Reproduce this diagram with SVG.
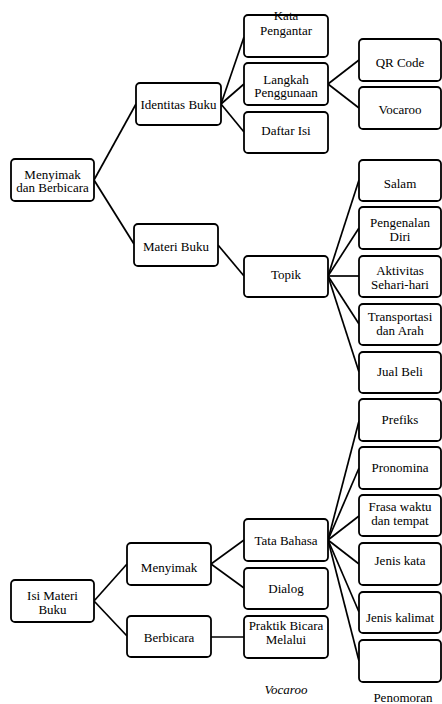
<svg xmlns="http://www.w3.org/2000/svg" width="442" height="704" viewBox="0 0 442 704">
<style>
  .box { fill: #ffffff; stroke: #000000; stroke-width: 1.8; }
  .t { font-family: "Liberation Serif", "Times New Roman", serif; font-size: 13px; fill: #000000; text-anchor: middle; }
  .it { font-style: italic; }
  .c { stroke: #000000; stroke-width: 1.7; fill: none; }
</style>
<rect width="442" height="704" fill="#ffffff"/>
<g id="connectors">
  <line class="c" x1="94" y1="180" x2="136" y2="104"/>
  <line class="c" x1="94" y1="180" x2="134" y2="244"/>
  <line class="c" x1="221" y1="104" x2="244" y2="37"/>
  <line class="c" x1="221" y1="104" x2="244" y2="84"/>
  <line class="c" x1="221" y1="104" x2="244" y2="132"/>
  <line class="c" x1="328" y1="84" x2="359" y2="60"/>
  <line class="c" x1="328" y1="84" x2="359" y2="108"/>
  <line class="c" x1="218" y1="245" x2="244" y2="276"/>
  <line class="c" x1="328" y1="276" x2="359" y2="180"/>
  <line class="c" x1="328" y1="276" x2="359" y2="228"/>
  <line class="c" x1="328" y1="276" x2="359" y2="276"/>
  <line class="c" x1="328" y1="276" x2="359" y2="324"/>
  <line class="c" x1="328" y1="276" x2="359" y2="372"/>
  <line class="c" x1="94" y1="601" x2="127" y2="564"/>
  <line class="c" x1="94" y1="601" x2="127" y2="636"/>
  <line class="c" x1="211" y1="564" x2="244" y2="540"/>
  <line class="c" x1="211" y1="564" x2="244" y2="588"/>
  <line class="c" x1="211" y1="637" x2="244" y2="637"/>
  <line class="c" x1="328" y1="540" x2="359" y2="421"/>
  <line class="c" x1="328" y1="540" x2="359" y2="468"/>
  <line class="c" x1="328" y1="540" x2="359" y2="516"/>
  <line class="c" x1="328" y1="540" x2="359" y2="564"/>
  <line class="c" x1="328" y1="540" x2="359" y2="612"/>
  <line class="c" x1="328" y1="540" x2="359" y2="661"/>
</g>
<g id="n-root1"><rect class="box" x="11" y="159" width="83" height="42" rx="4"/><text class="t" x="52.5" y="178.5">Menyimak</text><text class="t" x="52.5" y="192">dan Berbicara</text></g>
<g id="n-identitas"><rect class="box" x="136" y="83" width="85" height="42" rx="4"/><text class="t" x="178.5" y="109">Identitas Buku</text></g>
<g id="n-materi"><rect class="box" x="134" y="224" width="84" height="42" rx="4"/><text class="t" x="176" y="251">Materi Buku</text></g>
<g id="n-kata"><rect class="box" x="244" y="15" width="84" height="42" rx="4"/><text class="t" x="286" y="20">Kata</text><text class="t" x="286" y="35">Pengantar</text></g>
<g id="n-langkah"><rect class="box" x="244" y="63" width="84" height="42" rx="4"/><text class="t" x="286" y="83.5">Langkah</text><text class="t" x="286" y="97">Penggunaan</text></g>
<g id="n-daftar"><rect class="box" x="244" y="112" width="84" height="41" rx="4"/><text class="t" x="286" y="135">Daftar Isi</text></g>
<g id="n-qr"><rect class="box" x="359" y="39" width="82" height="42" rx="4"/><text class="t" x="400" y="67">QR Code</text></g>
<g id="n-vocaroo"><rect class="box" x="359" y="87" width="82" height="42" rx="4"/><text class="t" x="400" y="114">Vocaroo</text></g>
<g id="n-topik"><rect class="box" x="244" y="256" width="84" height="41" rx="4"/><text class="t" x="286" y="279">Topik</text></g>
<g id="n-salam"><rect class="box" x="359" y="160" width="82" height="41" rx="4"/><text class="t" x="400" y="188">Salam</text></g>
<g id="n-pengenalan"><rect class="box" x="359" y="207" width="82" height="42" rx="4"/><text class="t" x="400" y="227">Pengenalan</text><text class="t" x="400" y="241">Diri</text></g>
<g id="n-aktivitas"><rect class="box" x="359" y="256" width="82" height="41" rx="4"/><text class="t" x="400" y="275">Aktivitas</text><text class="t" x="400" y="289">Sehari-hari</text></g>
<g id="n-transportasi"><rect class="box" x="359" y="304" width="82" height="41" rx="4"/><text class="t" x="400" y="321">Transportasi</text><text class="t" x="400" y="335">dan Arah</text></g>
<g id="n-jualbeli"><rect class="box" x="359" y="352" width="82" height="41" rx="4"/><text class="t" x="400" y="376">Jual Beli</text></g>
<g id="n-root2"><rect class="box" x="11" y="580" width="83" height="42" rx="4"/><text class="t" x="52.5" y="599.5">Isi Materi</text><text class="t" x="52.5" y="613.5">Buku</text></g>
<g id="n-menyimak"><rect class="box" x="127" y="543" width="84" height="42" rx="4"/><text class="t" x="169" y="572">Menyimak</text></g>
<g id="n-berbicara"><rect class="box" x="127" y="616" width="84" height="41" rx="4"/><text class="t" x="169" y="642">Berbicara</text></g>
<g id="n-tatabahasa"><rect class="box" x="244" y="519" width="84" height="42" rx="4"/><text class="t" x="286" y="545">Tata Bahasa</text></g>
<g id="n-dialog"><rect class="box" x="244" y="568" width="84" height="41" rx="4"/><text class="t" x="286" y="593">Dialog</text></g>
<g id="n-praktik"><rect class="box" x="244" y="616" width="84" height="42" rx="4"/><text class="t" x="286" y="629.5">Praktik Bicara</text><text class="t" x="286" y="643.5">Melalui</text></g>
<g id="n-prefiks"><rect class="box" x="359" y="399" width="82" height="42" rx="4"/><text class="t" x="400" y="424">Prefiks</text></g>
<g id="n-pronomina"><rect class="box" x="359" y="447" width="82" height="42" rx="4"/><text class="t" x="400" y="472">Pronomina</text></g>
<g id="n-frasa"><rect class="box" x="359" y="495" width="82" height="41" rx="4"/><text class="t" x="400" y="511">Frasa waktu</text><text class="t" x="400" y="525">dan tempat</text></g>
<g id="n-jeniskata"><rect class="box" x="359" y="543" width="82" height="42" rx="4"/><text class="t" x="400" y="565">Jenis kata</text></g>
<g id="n-jeniskalimat"><rect class="box" x="359" y="592" width="82" height="41" rx="4"/><text class="t" x="400" y="622">Jenis kalimat</text></g>
<g id="n-empty"><rect class="box" x="359" y="640" width="82" height="42" rx="4"/></g>
<text class="t it" x="286" y="694">Vocaroo</text>
<text class="t" x="403" y="702">Penomoran</text>
</svg>
